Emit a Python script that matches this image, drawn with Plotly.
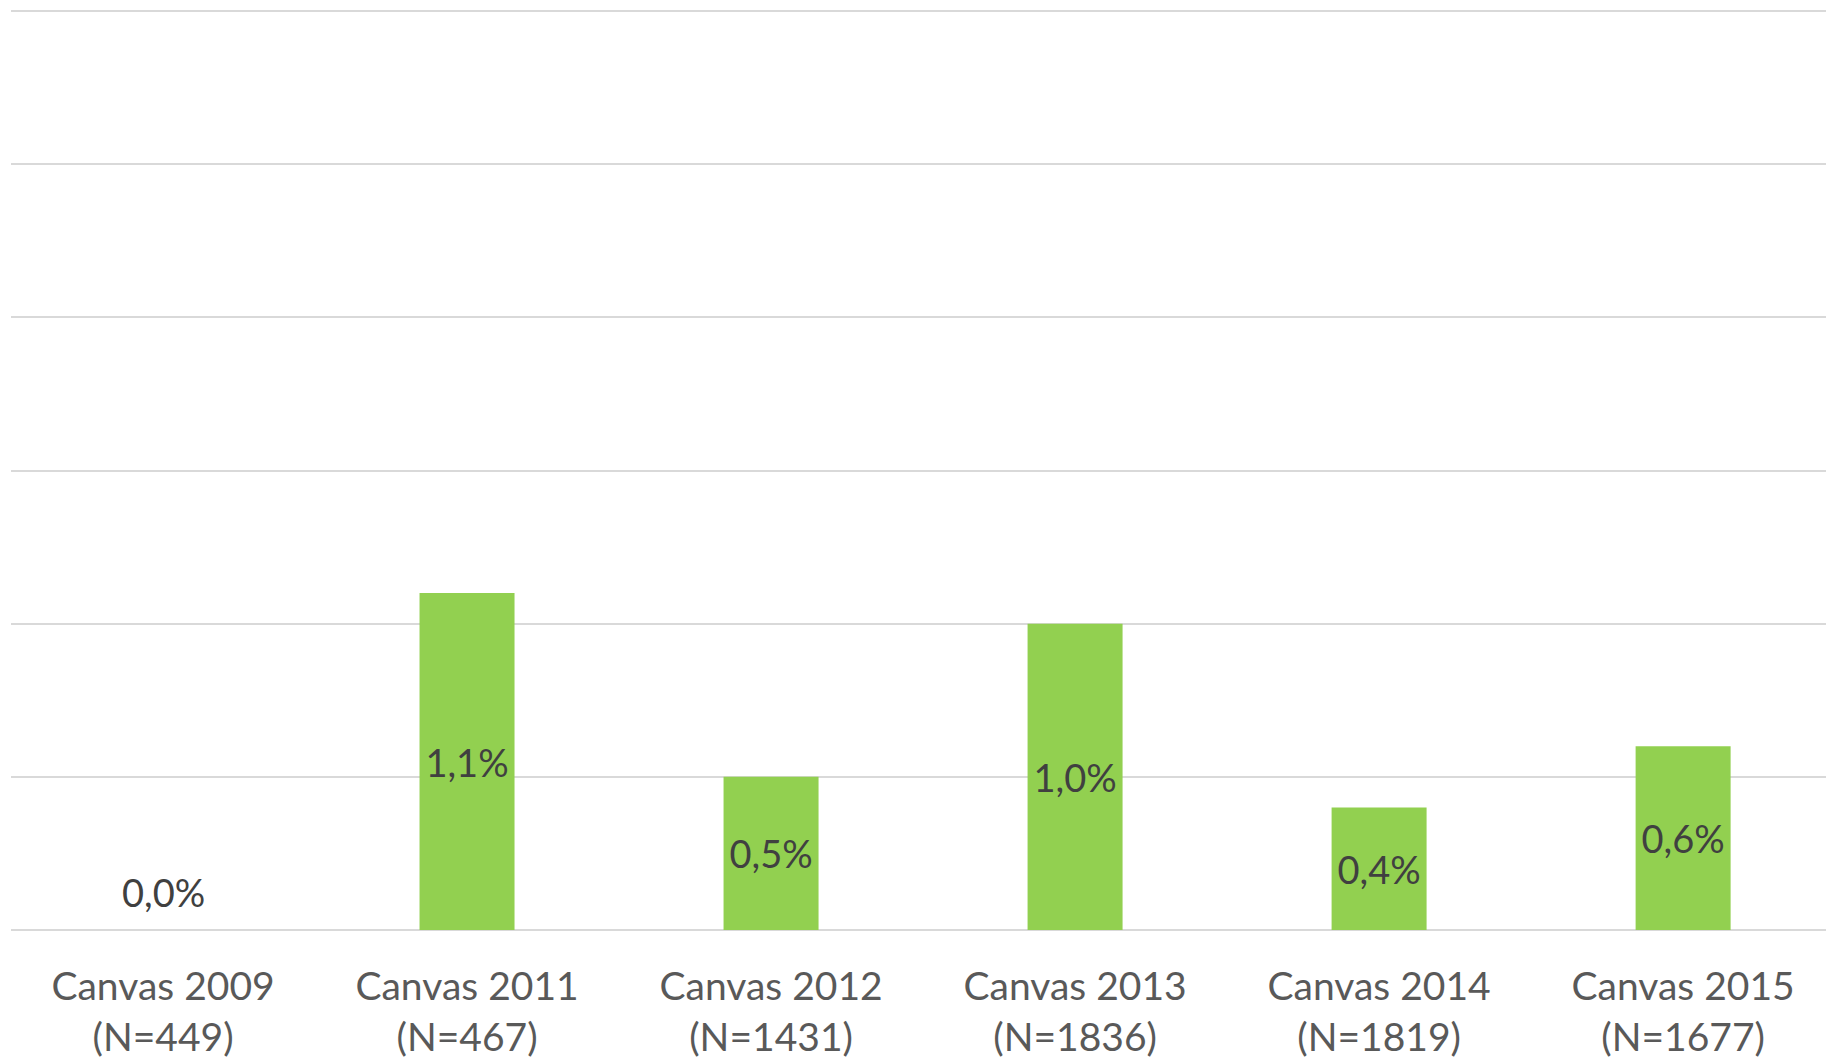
import plotly.graph_objects as go

categories = [
    "Canvas 2009<br>(N=449)",
    "Canvas 2011<br>(N=467)",
    "Canvas 2012<br>(N=1431)",
    "Canvas 2013<br>(N=1836)",
    "Canvas 2014<br>(N=1819)",
    "Canvas 2015<br>(N=1677)",
]
values = [0.0, 1.1, 0.5, 1.0, 0.4, 0.6]  # percent

FONT = "Lato, 'Open Sans', sans-serif"
LABEL_COLOR = "#404040"

fig = go.Figure()

# labels centred inside the bars; empty bars get an annotation above the base
fig.add_trace(go.Bar(
    x=categories,
    y=values,
    marker=dict(color="#92D050", line=dict(width=0)),
    width=0.3125,
    texttemplate="%{y:.1f}%",
    textposition=["none" if v == 0 else "inside" for v in values],
    insidetextanchor="middle",
    textangle=0,
    textfont=dict(family=FONT, size=38, color=LABEL_COLOR),
    hoverinfo="skip",
))

for cat, v in zip(categories, values):
    if v == 0:
        fig.add_annotation(
            x=cat, y=v,
            text=f"{v:.1f}%".replace(".", ","),
            showarrow=False,
            yanchor="middle",
            yshift=38,
            font=dict(family=FONT, size=38, color=LABEL_COLOR),
        )

fig.update_layout(
    width=1826,
    height=1060,
    separators=",.",
    showlegend=False,
    plot_bgcolor="white",
    paper_bgcolor="white",
    margin=dict(l=11, r=0, t=8, b=130),
)

fig.update_xaxes(
    range=[-0.5, 5.47],
    automargin=False,
    showgrid=False,
    showline=False,
    ticks="",
    tickfont=dict(family=FONT, size=39, color="#595959"),
    ticklabelstandoff=30,
)

fig.update_yaxes(
    range=[0, 3.01],
    automargin=False,
    dtick=0.5,
    showticklabels=False,
    showgrid=True,
    gridcolor="#D9D9D9",
    gridwidth=2,
    zeroline=True,
    zerolinecolor="#D9D9D9",
    zerolinewidth=2,
    ticks="",
)

# drop the default body margin so the figure fills the window without scrollbars
fig.write_html(
    "out.html",
    config={"displayModeBar": False},
    post_script="document.body.style.margin = '0'; document.body.style.overflow = 'hidden';",
)
